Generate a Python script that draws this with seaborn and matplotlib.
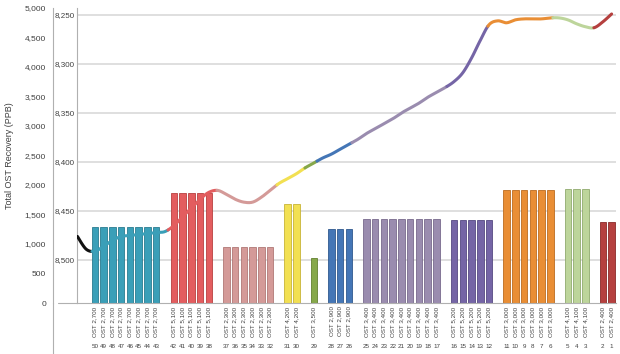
import numpy as np
import pandas as pd
import matplotlib
matplotlib.use("Agg")
import matplotlib.pyplot as plt
from matplotlib.lines import Line2D
from matplotlib.ticker import FuncFormatter
import seaborn as sns

# stage groups, left to right
groups = ["OST 2,700", "OST 5,100", "OST 2,300", "OST 4,200", "OST 3,500", "OST 2,900",
          "OST 3,400", "OST 5,200", "OST 3,000", "OST 4,100", "OST 2,400"]
stage_counts = [8, 5, 6, 2, 1, 3, 9, 5, 6, 3, 2]
recovery = [1280, 1860, 945, 1675, 770, 1250, 1430, 1405, 1915, 1925, 1380]
bar_colors = ["#3a9fb8", "#e35d5f", "#d49a98", "#f2e052", "#86a84a", "#4476b6",
              "#9a8caf", "#7565a6", "#e98e35", "#bdd59b", "#b5403f"]
edge_colors = ["#2a7c90", "#b8403f", "#b07876", "#c8b437", "#62802f", "#2f588e",
               "#786a8c", "#564a82", "#bc6c20", "#90aa6e", "#8a2a2a"]

# well depth (ft) along the lateral, one value per slot from -1 to 60
depth = [8476, 8489, 8491, 8486, 8480, 8476, 8475, 8474, 8473, 8472, 8471,
         8465, 8456, 8447, 8438, 8431, 8429, 8433, 8438, 8441, 8441, 8436,
         8429, 8422, 8417, 8412, 8406, 8401, 8396, 8392, 8387, 8382, 8377,
         8371, 8366, 8361, 8356, 8350, 8345, 8340, 8334, 8329, 8324, 8318,
         8309, 8294, 8276, 8260, 8256, 8258, 8255, 8254, 8254, 8254, 8253,
         8253, 8255, 8259, 8262, 8263, 8257, 8249]
# where the line colour changes (slot units)
line_breaks = [-1.0, 0.66, 9.34, 14.93, 21.78, 24.98, 26.35, 30.34, 41.19, 45.87, 53.29, 57.97, 60.0]
line_colors = ["#111111"] + bar_colors

# build bar table: one empty slot before each group
rows = []
slot = 0
stage = sum(stage_counts)
for g, n, v in zip(groups, stage_counts, recovery):
    slot += 1
    for k in range(n):
        rows.append({"slot": slot, "group": g, "stage": stage, "recovery": v})
        slot += 1
        stage -= 1
df = pd.DataFrame(rows)
n_slots = slot


def catmull_rom(x, y, n=24):
    p = np.column_stack([x, y]).astype(float)
    p = np.vstack([p[0], p, p[-1]])
    out = []
    t = np.linspace(0, 1, n, endpoint=False)[:, None]
    for i in range(1, len(p) - 2):
        p0, p1, p2, p3 = p[i - 1], p[i], p[i + 1], p[i + 2]
        seg = 0.5 * (2 * p1 + (-p0 + p2) * t + (2 * p0 - 5 * p1 + 4 * p2 - p3) * t ** 2
                     + (-p0 + 3 * p1 - 3 * p2 + p3) * t ** 3)
        out.append(seg)
    out.append(p[-2][None])
    return np.vstack(out)


sns.set_theme(style="white")
plt.rcParams["font.family"] = ["Liberation Sans", "DejaVu Sans"]

fig = plt.figure(figsize=(6.2, 3.54), dpi=100)
fig.patch.set_facecolor("white")
rect = [77 / 620, 51 / 354, 539 / 620, 295 / 354]
ax = fig.add_axes(rect)
ax_grid = ax.twinx()
ax_line = ax.twinx()
ax_grid.set_zorder(0)
ax.set_zorder(1)
ax_line.set_zorder(2)
ax_grid.patch.set_visible(True)
ax_grid.patch.set_facecolor("white")
ax.patch.set_visible(False)
ax_line.patch.set_visible(False)

pal = dict(zip(groups, bar_colors))
sns.barplot(data=df, x="slot", y="recovery", hue="group", palette=pal, native_scale=True,
            width=0.74, dodge=False, legend=False, ax=ax, saturation=1, linewidth=0)
edge_map = dict(zip(groups, edge_colors))
for patch, g in zip(ax.patches, df["group"]):
    patch.set_edgecolor(edge_map[g])
    patch.set_linewidth(0.6)

xlim = (-1.05, n_slots - 0.5)
ax.set_xlim(*xlim)
ax.set_ylim(0, 5000)
ax.set_yticks(np.arange(0, 5001, 500))
ax.yaxis.set_major_formatter(FuncFormatter(lambda v, p: f"{v:,.0f}"))
ax.tick_params(axis="y", length=0, labelsize=6, labelcolor="#404040", pad=5)
ax.set_ylabel("Total OST Recovery (PPB)", fontsize=6.5, color="#404040")
ax.yaxis.set_label_coords(-0.116, 0.5)
for s in ["top", "right"]:
    ax.spines[s].set_visible(False)
ax.spines["left"].set_position(("outward", 24 * 0.72))
ax.spines["left"].set_color("#b0b0b0")
ax.spines["left"].set_linewidth(0.8)
ax.spines["bottom"].set_color("#b0b0b0")
ax.spines["bottom"].set_linewidth(0.8)

ax.set_xticks(df["slot"])
ax.set_xticklabels(df["group"], rotation=90, fontsize=4.5, color="#404040")
ax.set_xticks(np.arange(-0.5, n_slots, 1), minor=True)
ax.tick_params(axis="x", which="major", length=0, pad=2.5)
ax.tick_params(axis="x", which="minor", length=37, width=0.6, color="#cfcfcf", direction="out")
ax.set_xlabel("")
for s_, n in zip(df["slot"], df["stage"]):
    ax.annotate(str(n), xy=(s_, 0), xycoords=("data", "axes fraction"), xytext=(0, -31),
                textcoords="offset points", ha="center", va="center", fontsize=4.5, color="#404040")

# depth axis (grid + labels) behind the bars
d_lim = (8543.9, 8242.9)
ax_grid.set_ylim(*d_lim)
ax_grid.yaxis.tick_left()
ax_grid.set_yticks(np.arange(8250, 8501, 50))
ax_grid.yaxis.set_major_formatter(FuncFormatter(lambda v, p: f"{v:,.0f}"))
ax_grid.tick_params(axis="y", length=0, labelsize=5.8, labelcolor="#404040", pad=1.5)
ax_grid.grid(axis="y", color="#d6d6d6", linewidth=1.1)
for s in ["top", "right", "bottom"]:
    ax_grid.spines[s].set_visible(False)
ax_grid.spines["left"].set_color("#b0b0b0")
ax_grid.spines["left"].set_linewidth(0.8)

# depth line on top
ax_line.set_ylim(*d_lim)
ax_line.yaxis.set_visible(False)
for s in ax_line.spines.values():
    s.set_visible(False)
xs = np.arange(-1, n_slots)
curve = catmull_rom(xs, depth)
for a, b, c in zip(line_breaks[:-1], line_breaks[1:], line_colors):
    m = (curve[:, 0] > a) & (curve[:, 0] < b)
    sx = np.concatenate([[a], curve[m, 0], [b]])
    sy = np.concatenate([[np.interp(a, curve[:, 0], curve[:, 1])], curve[m, 1],
                         [np.interp(b, curve[:, 0], curve[:, 1])]])
    ax_line.plot(sx, sy, color=c, linewidth=2.2, solid_capstyle="round")
ax_line.set_xlim(*xlim)

# axis line extensions into the label area
fig.add_artist(Line2D([53 / 620, 53 / 620], [0, 51 / 354], transform=fig.transFigure,
                      color="#b0b0b0", linewidth=0.8))
fig.add_artist(Line2D([58 / 620, 77 / 620], [51 / 354, 51 / 354], transform=fig.transFigure,
                      color="#b0b0b0", linewidth=0.8))

fig.savefig("out.png", dpi=100)
